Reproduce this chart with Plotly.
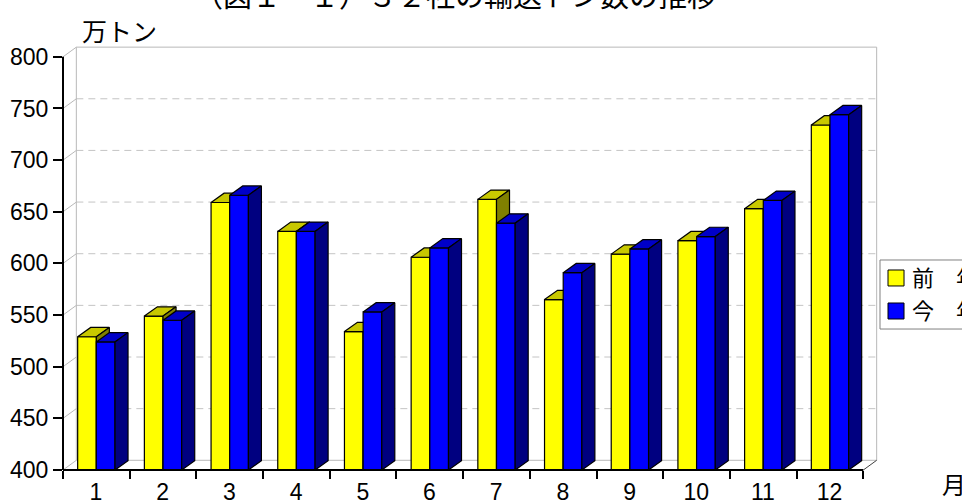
import plotly.graph_objects as go

# ---------------- data ----------------
months = list(range(1, 13))
month_labels = [str(m) for m in months]
prev_year = [529, 549, 659, 631, 534, 606, 662, 565, 609, 622, 653, 734]
this_year = [524, 545, 666, 631, 553, 615, 639, 591, 614, 626, 661, 744]
series_names = ["前　年", "今　年"]
y_ticks = [400, 450, 500, 550, 600, 650, 700, 750, 800]
title_text = "（図１－１）３２社の輸送トン数の推移"
y_unit = "万トン"
x_unit = "月"

# ---------------- style / geometry ----------------
Y0, YTOP = y_ticks[0], y_ticks[-1]
BAR_W = 0.28            # bar width in category units
BDX, BDY = 0.195, 9.0   # bar depth offset (x units, value units)
WDX, WDY = 0.2, 9.4     # wall depth offset
X0, X1 = 0.5, len(months) + 0.5
FONT = "Liberation Sans, Arial, Noto Sans CJK JP"
GREY = "#b8b8b8"

front_col = ["#FFFF00", "#0000FF"]
top_col = ["#C8C800", "#0000C8"]
side_col = ["#808000", "#000080"]


def bar_faces(values, offset):
    fx, fy, tx, ty, sx, sy = [], [], [], [], [], []
    for m, v in zip(months, values):
        a = m + offset
        b = a + BAR_W
        fx += [a, b, b, a, a, None]
        fy += [Y0, Y0, v, v, Y0, None]
        tx += [a, b, b + BDX, a + BDX, a, None]
        ty += [v, v, v + BDY, v + BDY, v, None]
        sx += [b, b + BDX, b + BDX, b, b, None]
        sy += [Y0, Y0 + BDY, v + BDY, v, Y0, None]
    return (fx, fy), (tx, ty), (sx, sy)


fig = go.Figure()

# back wall dashed gridlines
gx, gy = [], []
for t in y_ticks[1:-1]:
    gx += [X0 + WDX, X1 + WDX, None]
    gy += [t + WDY, t + WDY, None]
fig.add_trace(go.Scatter(x=gx, y=gy, mode="lines", showlegend=False, hoverinfo="skip",
                         line=dict(color="#c4c4c4", width=1, dash="7px,5px")))

# wall & floor outlines
wx, wy = [], []
for t in y_ticks:  # left wall diagonals at each tick level
    wx += [X0, X0 + WDX, None]
    wy += [t, t + WDY, None]
wx += [X0 + WDX, X0 + WDX, X1 + WDX, X1 + WDX, X0 + WDX, None]
wy += [Y0 + WDY, YTOP + WDY, YTOP + WDY, Y0 + WDY, Y0 + WDY, None]
fig.add_trace(go.Scatter(x=wx, y=wy, mode="lines", showlegend=False, hoverinfo="skip",
                         line=dict(color=GREY, width=1)))
fig.add_trace(go.Scatter(x=[X1, X1 + WDX], y=[Y0, Y0 + WDY], mode="lines", showlegend=False,
                         hoverinfo="skip", line=dict(color="#404040", width=1)))

# 3D bars (painter's order: yellow then blue)
for i, (vals, off) in enumerate([(prev_year, -BAR_W), (this_year, 0.0)]):
    faces = bar_faces(vals, off)
    for (xs, ys), col in zip(faces, [front_col[i], top_col[i], side_col[i]]):
        fig.add_trace(go.Scatter(x=xs, y=ys, mode="lines", fill="toself", fillcolor=col,
                                 line=dict(color="black", width=1.2), showlegend=False,
                                 hoverinfo="skip", name=series_names[i]))

# legend (drawn manually so it can run past the right edge like the original)
LEG_X0, LEG_Y0, LEG_Y1 = 1.0, 0.3325, 0.4953
sq_y = [(0.434, 0.4717), (0.3561, 0.3939)]
txt_y = [0.4528, 0.375]
shapes = [
    dict(type="rect", xref="paper", yref="paper", x0=LEG_X0, x1=1.2, y0=LEG_Y0, y1=LEG_Y1,
         line=dict(color="#808080", width=1), fillcolor="white", layer="below"),
    dict(type="line", xref="paper", yref="y", x0=0, x1=0, y0=Y0, y1=YTOP,
         line=dict(color="black", width=2)),
    dict(type="line", xref="x", yref="paper", x0=X0, x1=X1, y0=0, y1=0,
         line=dict(color="black", width=2)),
]
annotations = [
    dict(text=title_text, xref="paper", yref="paper", x=0.48, y=1.1156,
         xanchor="center", yanchor="middle", showarrow=False,
         font=dict(size=29, family=FONT)),
    dict(text=y_unit, xref="paper", yref="paper", x=0.0208, y=1.033,
         xanchor="left", yanchor="middle", showarrow=False,
         font=dict(size=25, family=FONT)),
    dict(text=x_unit, xref="paper", yref="paper", x=1.0734, y=-0.0354,
         xanchor="left", yanchor="middle", showarrow=False,
         font=dict(size=24, family=FONT)),
]
for i, name in enumerate(series_names):
    shapes.append(dict(type="rect", xref="paper", yref="paper", x0=1.0098, x1=1.0294,
                       y0=sq_y[i][0], y1=sq_y[i][1], fillcolor=front_col[i],
                       line=dict(color="black", width=1)))
    annotations.append(dict(text=name, xref="paper", yref="paper", x=1.0367, y=txt_y[i],
                            xanchor="left", yanchor="middle", showarrow=False,
                            font=dict(size=22, family=FONT)))

fig.update_layout(
    width=962, height=502,
    margin=dict(l=63, r=82, t=46, b=32, autoexpand=False),
    paper_bgcolor="white", plot_bgcolor="white",
    font=dict(family=FONT, size=23, color="black"),
    showlegend=False,
    xaxis=dict(range=[X0, X1 + 0.25], tickmode="array",
               tickvals=[m - 0.5 for m in months] + [X1],
               ticktext=month_labels + [""], ticklabelshift=33, ticklabelstandoff=-7,
               ticks="outside", ticklen=8, tickwidth=2, tickcolor="black",
               showgrid=False, zeroline=False, showline=False,
               tickfont=dict(size=23, family=FONT)),
    yaxis=dict(range=[Y0, YTOP + 10.5], tickmode="array", tickvals=y_ticks,
               ticks="outside", ticklen=9, tickwidth=2, tickcolor="black",
               showgrid=False, zeroline=False, showline=False,
               tickfont=dict(size=23, family=FONT)),
    shapes=shapes,
    annotations=annotations,
)

fig.write_html("out.html", config={"displayModeBar": False},
               post_script="document.body.style.margin='0px';")
